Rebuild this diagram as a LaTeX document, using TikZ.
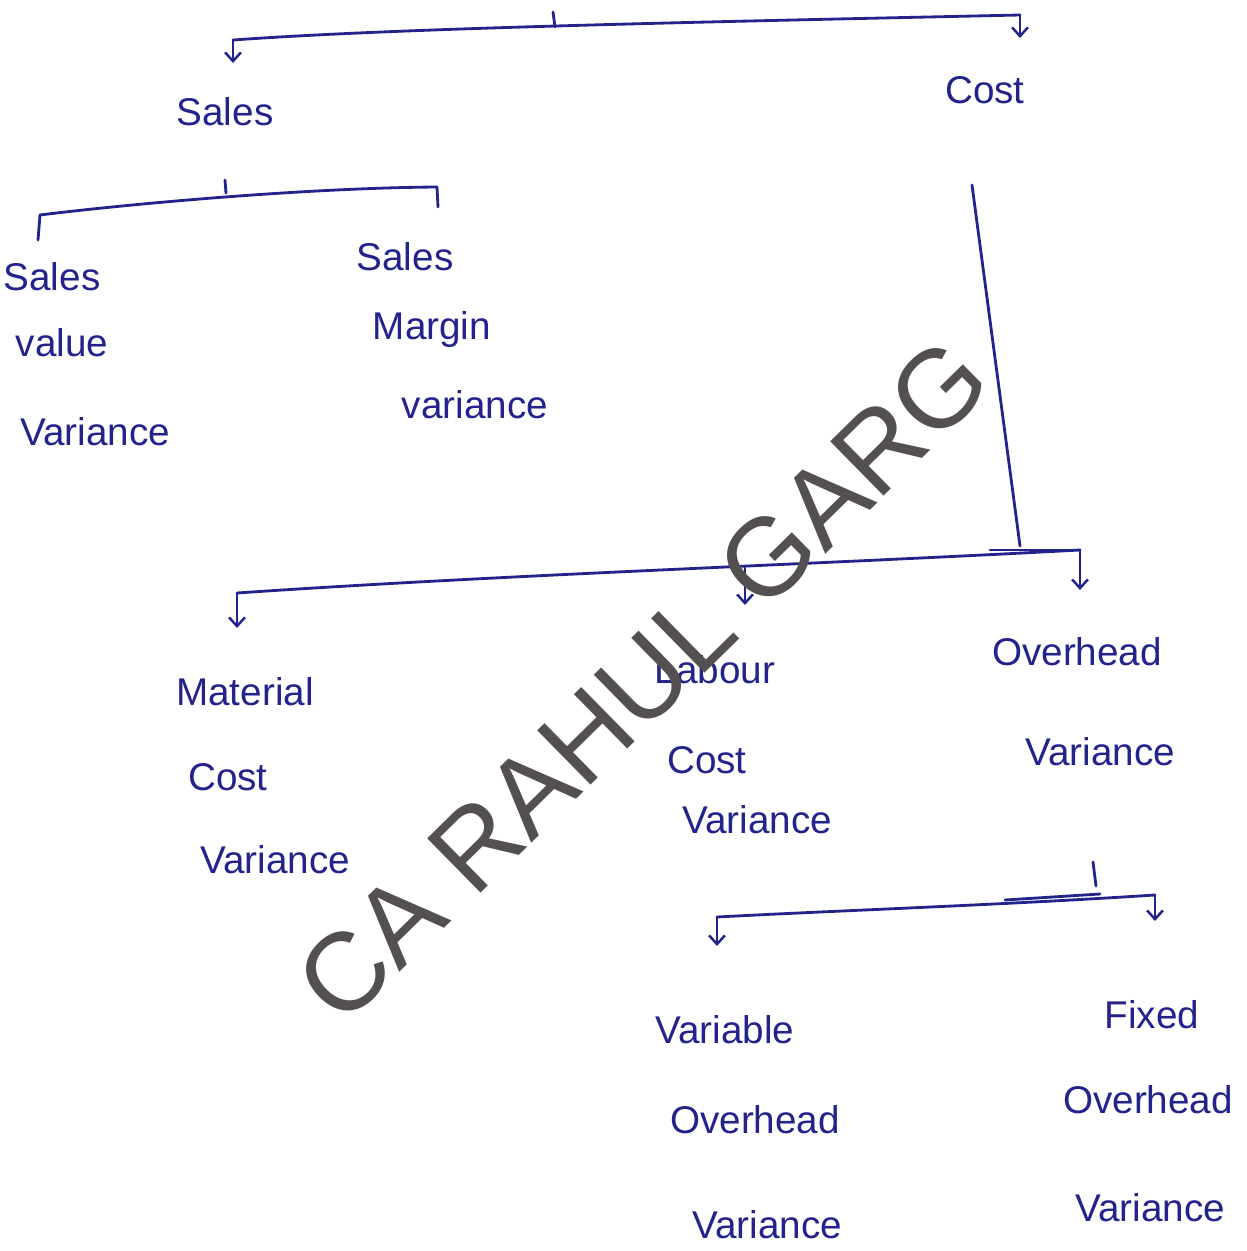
\documentclass[tikz,border=0pt]{standalone}
\usepackage{fontspec}
\setmainfont{Liberation Sans}
\usetikzlibrary{arrows.meta}
\definecolor{ink}{RGB}{35,35,140}
\definecolor{wm}{RGB}{84,80,80}
\tikzset{
  hand/.style={font=\fontsize{22}{24}\selectfont, text=ink, inner sep=0pt},
  ln/.style={draw=ink, line width=1.6pt, line cap=round, line join=round},
  dn/.style={ln, -{Straight Barb[length=5pt,width=9pt,line width=1.4pt]}},
}
\begin{document}
\begin{tikzpicture}[x=0.02cm,y=-0.02cm]
\useasboundingbox (0,0) rectangle (1247,1251);
\fill[white] (0,0) rectangle (1247,1251);

% ---------- top level ----------
\coordinate (t0) at (553,12);
\coordinate (t1) at (555,27);
\coordinate (tl) at (233,40);
\coordinate (tr) at (1020,15);
\coordinate (tla) at (233,63);
\coordinate (tra) at (1020,38);
\draw[ln] (t0) -- (t1);
\draw[ln] (tl) .. controls (400,28) and (700,22) .. (tr);
\draw[dn] (tl) -- (tla);
\draw[dn] (tr) -- (tra);
\node[hand] (sales) at (225,112) {Sales};
\node[hand] (cost) at (985,90) {Cost};

% ---------- sales branch ----------
\coordinate (s0) at (225,180);
\coordinate (s1) at (226,193);
\coordinate (sl) at (40,215);
\coordinate (sr) at (437,187);
\coordinate (sla) at (38,240);
\coordinate (sra) at (438,207);
\draw[ln] (s0) -- (s1);
\draw[ln] (sl) .. controls (120,205) and (300,188) .. (sr);
\draw[ln] (sl) -- (sla);
\draw[ln] (sr) -- (sra);
\node[hand] (svA) at (52,277) {Sales};
\node[hand] (svB) at (62,343) {value};
\node[hand] (svC) at (95,432) {Variance};
\node[hand] (smA) at (405,257) {Sales};
\node[hand] (smB) at (432,330) {Margin};
\node[hand] (smC) at (475,405) {variance};

% ---------- cost branch ----------
\coordinate (c0) at (972,185);
\coordinate (c1) at (1020,546);
\coordinate (cl) at (237,593);
\coordinate (cr) at (1080,550);
\coordinate (cm) at (745,568);
\coordinate (cla) at (237,628);
\coordinate (cma) at (745,605);
\coordinate (cra) at (1080,590);
\draw[ln] (c0) -- (c1);
\draw[ln] (cl) .. controls (500,575) and (800,565) .. (cr);
\draw[ln] (990,550) -- (cr);
\draw[dn] (cl) -- (cla);
\draw[dn] (cm) -- (cma);
\draw[dn] (cr) -- (cra);
\node[hand] (mA) at (245,692) {Material};
\node[hand] (mB) at (228,777) {Cost};
\node[hand] (mC) at (275,860) {Variance};
\node[hand] (lA) at (715,670) {Labour};
\node[hand] (lB) at (707,760) {Cost};
\node[hand] (lC) at (757,820) {Variance};
\node[hand] (oA) at (1077,652) {Overhead};
\node[hand] (oB) at (1100,752) {Variance};

% ---------- overhead branch ----------
\coordinate (o0) at (1093,862);
\coordinate (o1) at (1096,886);
\coordinate (ol) at (717,917);
\coordinate (or) at (1155,895);
\coordinate (ola) at (717,946);
\coordinate (ora) at (1155,921);
\draw[ln] (o0) -- (o1);
\draw[ln] (ol) .. controls (850,910) and (1000,905) .. (or);
\draw[ln] (1005,900) -- (1100,894);
\draw[dn] (ol) -- (ola);
\draw[dn] (or) -- (ora);
\node[hand] (vA) at (725,1030) {Variable};
\node[hand] (vB) at (755,1120) {Overhead};
\node[hand] (vC) at (767,1225) {Variance};
\node[hand] (fA) at (1152,1015) {Fixed};
\node[hand] (fB) at (1148,1100) {Overhead};
\node[hand] (fC) at (1150,1208) {Variance};

% ---------- watermark ----------
\node[text=wm, font=\fontsize{63}{68}\selectfont, inner sep=0pt, rotate=44.5] (wmark) at (643,680) {CA RAHUL GARG};
\end{tikzpicture}
\end{document}
